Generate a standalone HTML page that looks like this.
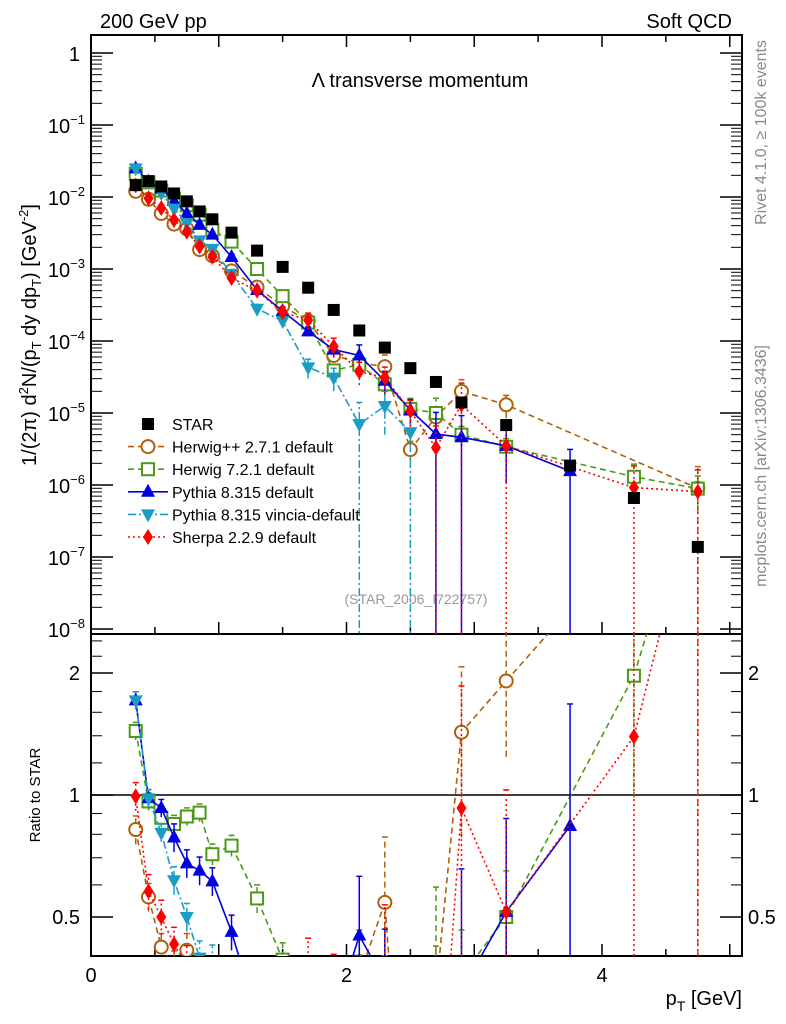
<!DOCTYPE html>
<html><head><meta charset="utf-8">
<style>
html,body{margin:0;background:#fff;overflow:hidden;width:786px;height:1024px;}
svg{display:block;font-family:"Liberation Sans",sans-serif;overflow:hidden;}
</style></head>
<body>
<svg id="chart" width="786" height="1024" viewBox="0 0 786 1024" xmlns="http://www.w3.org/2000/svg">
<g id="g-frames"></g>
<text x="100" y="28" font-size="20">200 GeV pp</text>
<text x="732" y="28" font-size="20" text-anchor="end">Soft QCD</text>
<text x="420" y="87" font-size="20" text-anchor="middle">Λ transverse momentum</text>
<text transform="translate(766,40) rotate(-90)" font-size="16" fill="#888" text-anchor="end">Rivet 4.1.0, ≥ 100k events</text>
<text transform="translate(766,345) rotate(-90)" font-size="16" fill="#888" text-anchor="end">mcplots.cern.ch [arXiv:1306.3436]</text>
<text x="416" y="604" font-size="14" fill="#999" text-anchor="middle">(STAR_2006_I722757)</text>
<text transform="translate(36,335) rotate(-90)" font-size="20" text-anchor="middle">1/(2π)  d<tspan font-size="13" dy="-8">2</tspan><tspan dy="8">N/(p</tspan><tspan font-size="13" dy="5">T</tspan><tspan dy="-5"> dy dp</tspan><tspan font-size="13" dy="5">T</tspan><tspan dy="-5">) [GeV</tspan><tspan font-size="13" dy="-8">-2</tspan><tspan dy="8">]</tspan></text>
<text transform="translate(40,795) rotate(-90)" font-size="15" text-anchor="middle">Ratio to STAR</text>
<text x="742" y="1005" font-size="20" text-anchor="end">p<tspan font-size="14" dy="6">T</tspan><tspan dy="-6"> [GeV]</tspan></text>
<g id="g-axes"></g>
<g id="g-data"></g>
<g id="g-legend"></g>
</svg>
<script>
const pT = [0.35,0.45,0.55,0.65,0.75,0.85,0.95,1.1,1.3,1.5,1.7,1.9,2.1,2.3,2.5,2.7,2.9,3.25,3.75,4.25,4.75];
const star = [1.46e-2,1.66e-2,1.4e-2,1.12e-2,8.7e-3,6.3e-3,4.9e-3,3.2e-3,1.8e-3,1.07e-3,5.5e-4,2.7e-4,1.4e-4,8.1e-5,4.2e-5,2.7e-5,1.4e-5,6.8e-6,1.86e-6,6.6e-7,1.38e-7];
const herwigpp = [1.2e-2,9.3e-3,5.9e-3,4.2e-3,3.6e-3,1.86e-3,1.53e-3,9.4e-4,5.6e-4,3.05e-4,1.9e-4,6.3e-5,5.0e-5,4.4e-5,3.1e-6,8.8e-6,2.0e-5,1.3e-5,null,null,9.0e-7];
const herwig7 = [2.1e-2,1.6e-2,1.23e-2,9.5e-3,7.7e-3,5.7e-3,3.5e-3,2.4e-3,1.0e-3,4.2e-4,1.8e-4,3.9e-5,4.7e-5,2.5e-5,1.14e-5,1.0e-5,5.0e-6,3.4e-6,null,1.3e-6,8.9e-7];
const pythia = [2.5e-2,1.63e-2,1.3e-2,8.8e-3,5.9e-3,4.1e-3,3.0e-3,1.47e-3,5.1e-4,2.6e-4,1.36e-4,7.6e-5,6.3e-5,2.8e-5,1.1e-5,5.1e-6,4.6e-6,3.5e-6,1.56e-6,null,null];
const vincia = [2.5e-2,1.63e-2,1.13e-2,6.9e-3,4.35e-3,2.5e-3,1.9e-3,8.6e-4,2.8e-4,1.9e-4,4.3e-5,3.1e-5,7.0e-6,1.25e-5,5.4e-6,null,null,null,null,null,null];
const sherpa = [1.45e-2,9.6e-3,7.0e-3,4.8e-3,3.3e-3,2.05e-3,1.48e-3,7.5e-4,5.0e-4,2.5e-4,1.95e-4,8.4e-5,3.75e-5,3.1e-5,1.07e-5,3.3e-6,1.3e-5,3.5e-6,null,9.2e-7,8.1e-7];
const errStar = [0.03,0.03,0.03,0.03,0.03,0.03,0.03,0.03,0.03,0.03,0.03,0.03,0.03,0.03,0.03,0.03,0.05,0.05,0.1,0.1,0.15];
const errHpp = [0.08,0.08,0.08,0.1,0.1,0.1,0.1,0.1,0.1,0.1,0.15,0.2,0.3,0.45,0.3,0.3,0.45,0.35,0,1,1];
const errH7 = [0.05,0.05,0.05,0.05,0.05,0.05,0.06,0.06,0.08,0.1,0.12,0.2,0.2,0.3,0.4,0.6,0.3,0.3,0.3,0.5,0.5];
const errPy = [0.05,0.05,0.05,0.08,0.08,0.08,0.08,0.1,0.1,0.12,0.15,0.2,0.4,0.35,0.4,1,1,0.7,1,0,0];
const errVi = [0.05,0.05,0.05,0.08,0.08,0.1,0.1,0.12,0.15,0.2,0.3,0.35,1,0.6,1,0,0,0,0,0,0];
const errSh = [0.08,0.1,0.1,0.1,0.12,0.12,0.12,0.15,0.15,0.2,0.25,0.3,0.35,0.4,0.4,1,1,1,0.4,1,1];
const xTicks = [0,2,4];
const yTickExp = [0,-1,-2,-3,-4,-5,-6,-7,-8];
const ratioTicks = [0.5,1,2];

const NS='http://www.w3.org/2000/svg';
const L=91,R=742,T=35,MB=634,B=956;
const X=v=>L+v*127.75;
const Y=v=>53-Math.log10(v)*72;
const RY=r=>795-Math.log2(r)*122;
function mk(tag,attrs,parent){const e=document.createElementNS(NS,tag);for(const k in attrs)e.setAttribute(k,attrs[k]);parent.appendChild(e);return e;}
const gF=document.getElementById('g-frames'),gA=document.getElementById('g-axes'),gD=document.getElementById('g-data'),gL=document.getElementById('g-legend');

const mainFrame=mk('rect',{x:L,y:T,width:R-L,height:MB-T,fill:'none',stroke:'#000','stroke-width':2},gF);


const ratioFrame=mk('rect',{x:L,y:MB,width:R-L,height:B-MB,fill:'none',stroke:'#000','stroke-width':2},gF);


const unity=mk('line',{x1:L,x2:R,y1:RY(1),y2:RY(1),stroke:'#000','stroke-width':1.5},gF);



for(let v=0.5;v<5.1;v+=0.5){
  const maj=Math.abs(v-Math.round(v))<1e-6;const len=maj?12:7;
  mk('line',{x1:X(v),x2:X(v),y1:B,y2:B-len,stroke:'#000','stroke-width':1.5},gA);
  mk('line',{x1:X(v),x2:X(v),y1:MB,y2:MB-len,stroke:'#000','stroke-width':1.5},gA);
  mk('line',{x1:X(v),x2:X(v),y1:T,y2:T+len,stroke:'#000','stroke-width':1.5},gA);
}
xTicks.forEach(v=>{
  const t=mk('text',{x:X(v),y:982,'font-size':20,'text-anchor':'middle'},gA);t.textContent=v;
  
  
});
yTickExp.forEach(e=>{
  const y=Y(Math.pow(10,e));
  mk('line',{x1:L,x2:L+22,y1:y,y2:y,stroke:'#000','stroke-width':1.5},gA);
  mk('line',{x1:R,x2:R-22,y1:y,y2:y,stroke:'#000','stroke-width':1.5},gA);
  if(e<0){for(let m=2;m<10;m++){const yy=Y(m*Math.pow(10,e));
    mk('line',{x1:L,x2:L+11,y1:yy,y2:yy,stroke:'#000','stroke-width':1},gA);
    mk('line',{x1:R,x2:R-11,y1:yy,y2:yy,stroke:'#000','stroke-width':1},gA);}}
  const t=mk('text',{x:e===0?80:85,y:y+8,'font-size':20,'text-anchor':'end'},gA);
  if(e===0)t.textContent='1';else{t.textContent='10';const s=mk('tspan',{'font-size':13,dy:-9},t);s.textContent='−'+(-e);}
  
  
});
[0.4,0.6,0.7,0.8,0.9,1.2,1.4,1.6,1.8,2.2,2.4].forEach(r=>{const y=RY(r);
  mk('line',{x1:L,x2:L+11,y1:y,y2:y,stroke:'#000','stroke-width':1},gA);
  mk('line',{x1:R,x2:R-11,y1:y,y2:y,stroke:'#000','stroke-width':1},gA);});
ratioTicks.forEach(r=>{const y=RY(r);
  mk('line',{x1:L,x2:L+22,y1:y,y2:y,stroke:'#000','stroke-width':1.5},gA);
  mk('line',{x1:R,x2:R-22,y1:y,y2:y,stroke:'#000','stroke-width':1.5},gA);
  const t=mk('text',{x:80,y:y+7,'font-size':20,'text-anchor':'end'},gA);t.textContent=r;
  
  
  const t2=mk('text',{x:748,y:y+7,'font-size':20},gA);t2.textContent=r;
  
  
});

const defs=mk('defs',{},gD);
const c1=mk('clipPath',{id:'clipMain'},defs);mk('rect',{x:L,y:T,width:R-L,height:MB-T},c1);
const c2=mk('clipPath',{id:'clipRatio'},defs);mk('rect',{x:L,y:MB,width:R-L,height:B-MB},c2);
const gMain=mk('g',{'clip-path':'url(#clipMain)'},gD);
const gRatio=mk('g',{'clip-path':'url(#clipRatio)'},gD);

function marker(kind,color,x,y,parent){
  let e;
  if(kind==='sq')e=mk('rect',{x:x-6,y:y-6,width:12,height:12,fill:'#000'},parent);
  else if(kind==='osq')e=mk('rect',{x:x-6,y:y-6,width:12,height:12,fill:'#fff',stroke:color,'stroke-width':2},parent);
  else if(kind==='oc')e=mk('circle',{cx:x,cy:y,r:6.5,fill:'#fff',stroke:color,'stroke-width':2},parent);
  else if(kind==='tu')e=mk('polygon',{points:`${x},${y-8} ${x-7},${y+5} ${x+7},${y+5}`,fill:color},parent);
  else if(kind==='td')e=mk('polygon',{points:`${x},${y+8} ${x-7},${y-5} ${x+7},${y-5}`,fill:color},parent);
  else if(kind==='di')e=mk('polygon',{points:`${x},${y-8} ${x-5},${y} ${x},${y+8} ${x+5},${y}`,fill:color},parent);
  return e;
}
const series=[
 {name:'Herwig++ 2.7.1 default',key:'herwigpp',vals:herwigpp,err:errHpp,color:'#b0600a',dash:'6,4',mk:'oc'},
 {name:'Herwig 7.2.1 default',key:'herwig7',vals:herwig7,err:errH7,color:'#4a9a16',dash:'6,4',mk:'osq'},
 {name:'Pythia 8.315 default',key:'pythia',vals:pythia,err:errPy,color:'#0000e0',dash:'',mk:'tu'},
 {name:'Pythia 8.315 vincia-default',key:'vincia',vals:vincia,err:errVi,color:'#1a9dc4',dash:'8,3,2,3',mk:'td'},
 {name:'Sherpa 2.2.9 default',key:'sherpa',vals:sherpa,err:errSh,color:'#ff0000',dash:'2,3',mk:'di'}
];
function drawSeries(s,g,valFn,ymap,bottom,top){
  const grp=mk('g',{},g);
  
  
  const pts=[];
  s.vals.forEach((v,i)=>{if(v==null)return;const val=valFn(v,i);pts.push([X(pT[i]),ymap(val),val,s.err[i]]);});
  mk('polyline',{points:pts.map(q=>q[0]+','+q[1]).join(' '),fill:'none',stroke:s.color,'stroke-width':1.6,'stroke-dasharray':s.dash},grp);
  pts.forEach(q=>{
    const [x,y,val,er]=q;
    const yl=er>=1?bottom+10:ymap(val*(1-er));const yh=ymap(val*(1+er));
    mk('line',{x1:x,x2:x,y1:yl,y2:yh,stroke:s.color,'stroke-width':1.5,'stroke-dasharray':s.dash},grp);
    mk('line',{x1:x-3,x2:x+3,y1:yh,y2:yh,stroke:s.color,'stroke-width':1.5},grp);
    const m=marker(s.mk,s.color,x,y,grp);
    
    
  });
}
series.forEach(s=>drawSeries(s,gMain,v=>v,Y,MB,T));
const gStar=mk('g',{},gMain);


star.forEach((v,i)=>{const x=X(pT[i]);
  mk('line',{x1:x,x2:x,y1:Y(v*(1-errStar[i])),y2:Y(v*(1+errStar[i])),stroke:'#000','stroke-width':1.5},gStar);
  const m=marker('sq','#000',x,Y(v),gStar);
  
  
});
series.forEach(s=>drawSeries(s,gRatio,(v,i)=>v/star[i],RY,B,MB));

const legY0=424,legDy=22.6;
const lg=mk('g',{},gL);


const e0=mk('g',{},lg);


marker('sq','#000',148,legY0,e0);
const t0=mk('text',{x:172,y:legY0+6,'font-size':16},e0);t0.textContent='STAR';
series.forEach((s,k)=>{
  const y=legY0+legDy*(k+1);
  const e=mk('g',{},lg);
  
  
  mk('line',{x1:128,x2:168,y1:y,y2:y,stroke:s.color,'stroke-width':1.6,'stroke-dasharray':s.dash},e);
  marker(s.mk,s.color,148,y,e);
  const t=mk('text',{x:172,y:y+6,'font-size':16},e);t.textContent=s.name;
});
</script>
</body></html>
